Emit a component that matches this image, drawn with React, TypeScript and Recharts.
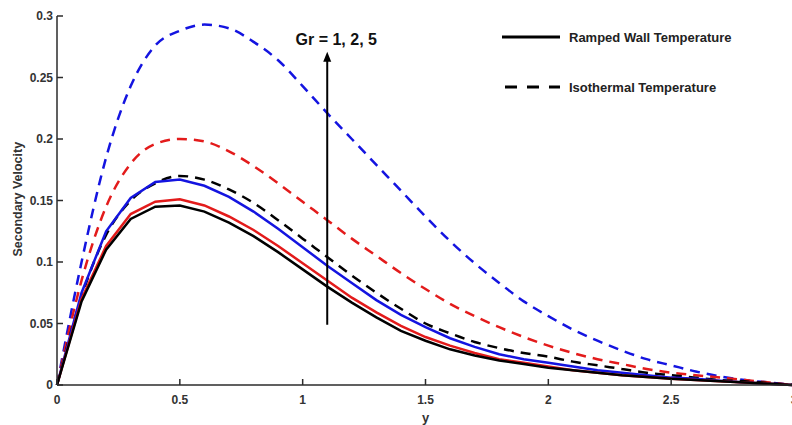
import { LineChart, Line, XAxis, YAxis, ReferenceLine } from 'recharts';

// positions along y (x-axis)
const yCoords = [
  0, 0.1, 0.2, 0.3, 0.4, 0.5, 0.6, 0.7, 0.8, 0.9, 1.0, 1.1, 1.2, 1.3, 1.4, 1.5,
  1.6, 1.7, 1.8, 1.9, 2.0, 2.1, 2.2, 2.3, 2.4, 2.5, 2.6, 2.7, 2.8, 2.9, 3.0,
];

// ramped wall temperature, Gr = 1, 2, 5
const rampedGr1 = [
  0, 0.068, 0.11, 0.135, 0.145, 0.146, 0.141, 0.132, 0.121, 0.108, 0.094, 0.08, 0.067, 0.055, 0.044, 0.036,
  0.029, 0.024, 0.02, 0.017, 0.014, 0.012, 0.01, 0.008, 0.0065, 0.005, 0.004, 0.003, 0.002, 0.001, 0,
];
const rampedGr2 = [
  0, 0.07, 0.113, 0.139, 0.149, 0.151, 0.146, 0.137, 0.126, 0.113, 0.099, 0.085, 0.071, 0.059, 0.048, 0.039,
  0.032, 0.026, 0.021, 0.018, 0.015, 0.012, 0.01, 0.008, 0.0065, 0.005, 0.004, 0.003, 0.002, 0.001, 0,
];
const rampedGr5 = [
  0, 0.075, 0.125, 0.152, 0.165, 0.167, 0.162, 0.153, 0.141, 0.127, 0.112, 0.097, 0.083, 0.069, 0.057, 0.047,
  0.038, 0.031, 0.025, 0.021, 0.018, 0.015, 0.012, 0.01, 0.008, 0.006, 0.005, 0.0035, 0.002, 0.001, 0,
];

// isothermal temperature, Gr = 1, 2, 5
const isoGr1 = [
  0, 0.072, 0.122, 0.15, 0.164, 0.17, 0.167, 0.159, 0.148, 0.134, 0.119, 0.104, 0.089, 0.075, 0.062, 0.05,
  0.042, 0.035, 0.03, 0.026, 0.023, 0.019, 0.016, 0.013, 0.01, 0.008, 0.006, 0.004, 0.003, 0.0015, 0,
];
const isoGr2 = [
  0, 0.085, 0.145, 0.18, 0.196, 0.2, 0.198, 0.19, 0.178, 0.164, 0.149, 0.134, 0.119, 0.105, 0.091, 0.078,
  0.066, 0.056, 0.047, 0.039, 0.032, 0.026, 0.021, 0.017, 0.013, 0.01, 0.008, 0.006, 0.004, 0.002, 0,
];
const isoGr5 = [
  0, 0.1, 0.185, 0.243, 0.276, 0.288, 0.293, 0.29, 0.279, 0.264, 0.243, 0.221, 0.2, 0.179, 0.158, 0.137,
  0.117, 0.099, 0.083, 0.068, 0.056, 0.045, 0.036, 0.028, 0.021, 0.016, 0.011, 0.007, 0.004, 0.002, 0,
];

const xTicks = [0, 0.5, 1, 1.5, 2, 2.5, 3];
const yTicks = [0, 0.05, 0.1, 0.15, 0.2, 0.25, 0.3];

const legendItems = [
  { label: 'Ramped Wall Temperature', dash: undefined },
  { label: 'Isothermal Temperature', dash: '12 10' },
];

const BLACK = '#000000';
const RED = '#e31b1b';
const BLUE = '#1414e0';
const AXIS = '#2b2b2b';
const FONT = '"Liberation Sans", Arial, sans-serif';

const data = yCoords.map((y, i) => ({
  y,
  r1: rampedGr1[i],
  r2: rampedGr2[i],
  r5: rampedGr5[i],
  i1: isoGr1[i],
  i2: isoGr2[i],
  i5: isoGr5[i],
}));

const series = [
  { key: 'i5', color: BLUE, dash: '10 7' },
  { key: 'i2', color: RED, dash: '10 7' },
  { key: 'i1', color: BLACK, dash: '10 7' },
  { key: 'r5', color: BLUE },
  { key: 'r2', color: RED },
  { key: 'r1', color: BLACK },
];

function XTick({ x, y, payload }: any) {
  return (
    <g>
      <line x1={x} y1={y} x2={x} y2={y - 6} stroke={AXIS} strokeWidth={1.5} />
      <text x={x} y={y + 19} textAnchor="middle" fontSize={12} fontWeight="bold" fill="#333" fontFamily={FONT}>
        {payload.value}
      </text>
    </g>
  );
}

function YTick({ x, y, payload }: any) {
  return (
    <g>
      <line x1={x} y1={y} x2={x + 6} y2={y} stroke={AXIS} strokeWidth={1.5} />
      <text x={x - 4} y={y + 4} textAnchor="end" fontSize={12} fontWeight="bold" fill="#333" fontFamily={FONT}>
        {payload.value}
      </text>
    </g>
  );
}

function GrArrow({ x1, y1, x2, y2 }: any) {
  const top = Math.min(y1, y2);
  const bottom = Math.max(y1, y2);
  return (
    <g>
      <line x1={x1} y1={bottom} x2={x2} y2={top + 8} stroke="#000" strokeWidth={2} />
      <polygon points={`${x1},${top} ${x1 - 4},${top + 10} ${x1 + 4},${top + 10}`} fill="#000" />
      <text x={x1 + 9} y={top - 7} textAnchor="middle" fontSize={16} fontWeight="bold" fill="#111" fontFamily={FONT}>
        Gr = 1, 2, 5
      </text>
    </g>
  );
}

function LegendBox() {
  return (
    <div style={{ position: 'absolute', left: 500, top: 12, width: 280, fontFamily: FONT }}>
      {legendItems.map((item) => (
        <div key={item.label} style={{ display: 'flex', alignItems: 'center', height: 50 }}>
          <svg width={70} height={10}>
            <line
              x1={item.dash ? 5 : 2}
              y1={5}
              x2={60}
              y2={5}
              stroke="#000"
              strokeWidth={3}
              strokeDasharray={item.dash}
            />
          </svg>
          <span style={{ fontSize: 13, fontWeight: 'bold', color: '#222', marginLeft: -1 }}>{item.label}</span>
        </div>
      ))}
    </div>
  );
}

export default function App() {
  return (
    <div style={{ position: 'absolute', left: 0, top: 0, width: 792, height: 425, overflow: 'hidden', background: '#fff' }}>
      <LineChart width={800} height={425} data={data} margin={{ top: 16, right: 6, bottom: 0, left: 0 }}>
        <XAxis
          dataKey="y"
          type="number"
          domain={[0, 3]}
          ticks={xTicks}
          tickSize={0}
          tickMargin={0}
          height={40}
          tick={<XTick />}
          axisLine={{ stroke: AXIS, strokeWidth: 1.5 }}
          tickLine={false}
          label={{ value: 'y', position: 'insideBottom', offset: 3, fontSize: 13, fontWeight: 'bold', fill: '#333', fontFamily: FONT }}
        />
        <YAxis
          type="number"
          domain={[0, 0.3]}
          ticks={yTicks}
          tickSize={0}
          tickMargin={0}
          width={57}
          tick={<YTick />}
          axisLine={{ stroke: AXIS, strokeWidth: 1.5 }}
          tickLine={false}
          label={{
            value: 'Secondary Velocity',
            angle: -90,
            position: 'insideLeft',
            offset: 0,
            dx: 18,
            dy: 56,
            fontSize: 12.5,
            fontWeight: 'bold',
            fill: '#333',
            fontFamily: FONT,
          }}
        />
        {series.map((s) => (
          <Line
            key={s.key}
            dataKey={s.key}
            type={s.dash ? 'monotone' : 'linear'}
            stroke={s.color}
            strokeWidth={2.5}
            strokeDasharray={s.dash}
            dot={false}
            activeDot={false}
            isAnimationActive={false}
            legendType="none"
          />
        ))}
        <ReferenceLine
          segment={[
            { x: 1.1, y: 0.049 },
            { x: 1.1, y: 0.271 },
          ]}
          shape={<GrArrow />}
          ifOverflow="visible"
        />
      </LineChart>
      <LegendBox />
    </div>
  );
}
